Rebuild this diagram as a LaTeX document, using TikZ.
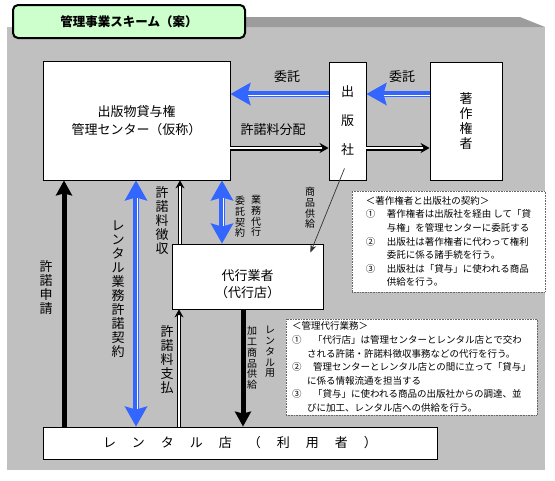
\documentclass[tikz,border=0pt]{standalone}
\usepackage{fontspec}
\setmainfont{Noto Sans CJK JP}
\usetikzlibrary{arrows.meta,positioning}
\definecolor{bggray}{HTML}{C0C0C0}
\definecolor{bandgray}{HTML}{9C9C9C}
\definecolor{titlegreen}{HTML}{CCFFCC}
\definecolor{arrowblue}{HTML}{3366FF}
\newcommand{\itemno}[1]{\makebox[21pt][l]{#1}}
\newcommand{\gap}{\hspace{16pt}}

\begin{document}
\begin{tikzpicture}[x=1pt, y=-1pt,
    box/.style={draw, fill=white, line width=0.8pt, inner sep=0pt, align=center,
      font=\fontsize{13}{18}\selectfont},
    note/.style={draw=black!60, densely dotted, fill=white, line width=0.6pt,
      inner sep=0pt, align=left, font=\fontsize{9.5}{13.6}\selectfont},
    lbl/.style={inner sep=0pt, align=center, font=\fontsize{13}{14}\selectfont},
    lblsmall/.style={inner sep=0pt, align=center, font=\fontsize{10}{10.8}\selectfont},
    bluearrow/.style={draw=arrowblue, line width=6pt,
      -{Stealth[length=20pt,width=22pt,inset=3pt]},
      postaction={draw=white, -, line width=0.9pt, double=arrowblue,
        double distance=1.2pt, shorten >=18pt}},
    bluetwoway/.style={draw=arrowblue, line width=6pt,
      {Stealth[length=20pt,width=22pt,inset=3pt]}-{Stealth[length=20pt,width=22pt,inset=3pt]},
      postaction={draw=white, -, line width=0.9pt, double=arrowblue,
        double distance=1.2pt, shorten <=18pt, shorten >=18pt}},
    thickarrow/.style={draw=black, line width=5pt, -{Stealth[length=15pt,width=16pt,inset=2pt]}},
    dblarrow/.style={draw=black, line width=1.6pt, double=white, double distance=1.8pt,
      -{Stealth[length=9pt,width=10pt]}},
    thinarrow/.style={draw=black, line width=0.9pt, double=white, double distance=1.3pt,
      -{Stealth[length=8pt,width=9pt]}},
    supply/.style={draw=black!80, line width=0.7pt, -{Stealth[length=8pt,width=6pt]}}]

  \useasboundingbox (0,0) rectangle (555,480);
  % background
  \fill[bggray] (7,27) rectangle (545,470);
  \fill[bandgray] (20,17) -- (520,17) -- (545,27) -- (20,27) -- cycle;
  \node[draw, line width=2pt, rounded corners=5pt, fill=titlegreen, minimum width=232pt,
    minimum height=33pt, font=\fontsize{12.5}{14}\selectfont\bfseries] (title) at (129,21.5)
    {管理事業スキーム（案）};

  % boxes
  \node[box, minimum width=187pt, minimum height=119pt] (center) at (136.5,120.5)
    {出版物貸与権\\管理センター（仮称）};
  \node[box, minimum width=37pt, minimum height=118pt, font=\fontsize{13}{29}\selectfont]
    (pub) at (347.5,121) {出\\版\\社};
  \node[box, minimum width=72pt, minimum height=118pt, font=\fontsize{13}{15}\selectfont]
    (holder) at (466,121) {著\\作\\権\\者};
  \node[box, minimum width=151pt, minimum height=65pt, font=\fontsize{13}{17}\selectfont]
    (agent) at (247.5,276.5) {\rule{0pt}{27pt}代行業者\\（代行店）};
  \node[box, minimum width=394pt, minimum height=32pt] (rental) at (240,443)
    {レ\gap ン\gap タ\gap ル\gap 店\gap （\gap 利\gap 用\gap 者\gap ）};

  % notes
  \node[note, minimum width=193pt, minimum height=101pt] (contract) at (448.5,241.5)
    {＜著作権者と出版社の契約＞\\
     \itemno{①}著作権者は出版社を経由 して「貸\\
     \hspace*{21pt}与権」を管理センターに委託する\\
     \itemno{②}出版社は著作権者に代わって権利\\
     \hspace*{21pt}委託に係る諸手続を行う。\\
     \itemno{③}出版社は「貸与」に使われる商品\\
     \hspace*{21pt}供給を行う。};
  \node[note, minimum width=251pt, minimum height=96pt] (duties) at (411.5,367)
    {＜管理代行業務＞\\
     \itemno{①}「代行店」は管理センターとレンタル店とで交わ\\
     \hspace*{15pt}される許諾・許諾料徴収事務などの代行を行う。\\
     \itemno{②}管理センターとレンタル店との間に立って「貸与」\\
     \hspace*{15pt}に係る情報流通を担当する\\
     \itemno{③}「貸与」に使われる商品の出版社からの調達、並\\
     \hspace*{15pt}びに加工、レンタル店への供給を行う。};

  % labels
  \node[lbl] (consignL) at (287,77) {委託};
  \node[lbl] (consignR) at (402,77) {委託};
  \node[lbl] (royaltyDist) at (273,130) {許諾料分配};
  \node[lbl] (request) at (46,288) {許\\諾\\申\\請};
  \node[lbl] (license) at (118,289) {レ\\ン\\タ\\ル\\業\\務\\許\\諾\\契\\約};
  \node[lbl] (collect) at (162,221) {許\\諾\\料\\徴\\収};
  \node[lblsmall] (entrust) at (240,217) {委\\託\\契\\約};
  \node[lblsmall] (proxy) at (256,216) {業\\務\\代\\行};
  \node[lblsmall] (goods) at (310,208) {商\\品\\供\\給};
  \node[lbl] (payment) at (167,360) {許\\諾\\料\\支\\払};
  \node[lblsmall] (processed) at (252,358) {加\\工\\商\\品\\供\\給};
  \node[lblsmall] (forrental) at (270,352) {レ\\ン\\タ\\ル\\用};

  % connectors
  \draw[bluearrow] (pub.west |- 0,94) -- (center.east |- 0,94);
  \draw[bluearrow] (holder.west |- 0,94) -- (pub.east |- 0,94);
  \draw[dblarrow] (center.east |- 0,148) -- (pub.west |- 0,148);
  \draw[dblarrow] (pub.east |- 0,148) -- (holder.west |- 0,148);
  \draw[thickarrow] (rental.north -| 64,0) -- (center.south -| 64,0);
  \draw[bluetwoway] (rental.north -| 136,0) -- (center.south -| 136,0);
  \draw[thinarrow] (agent.north -| 180,0) -- (center.south -| 180,0);
  \draw[bluetwoway] (agent.north -| 222,0) -- (center.south -| 222,0);
  \draw[thinarrow] (rental.north -| 179,0) -- (agent.south -| 179,0);
  \draw[thickarrow] (agent.south -| 243,0) -- (rental.north -| 243,0);
  \draw[supply] ([xshift=-3pt,yshift=12pt]pub.south) -- ([xshift=-13pt,yshift=-9pt]agent.north east);
\end{tikzpicture}
\end{document}
